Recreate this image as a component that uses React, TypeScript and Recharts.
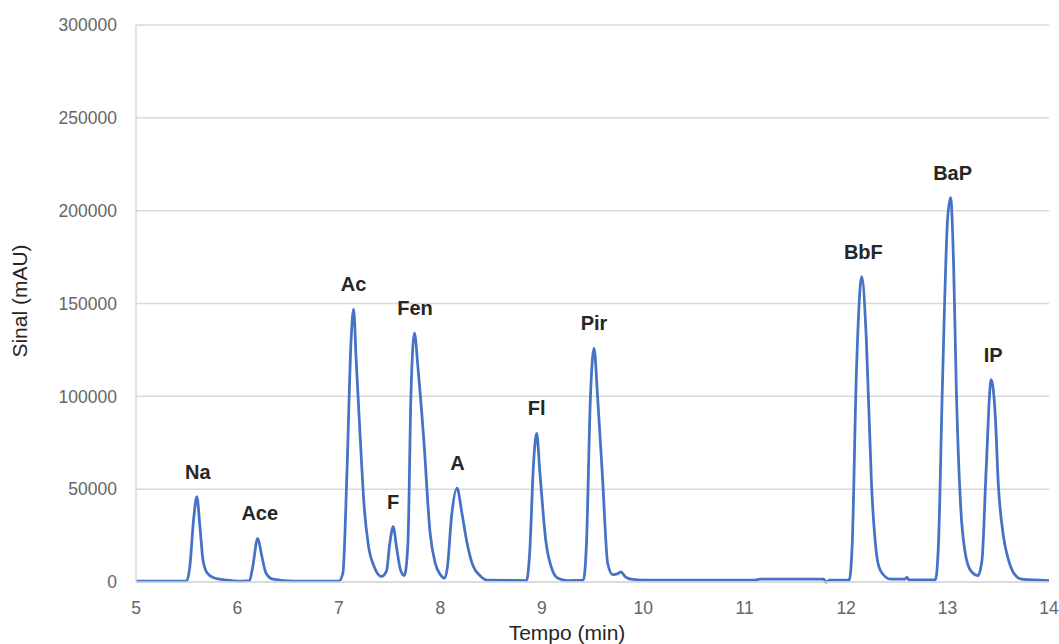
import {
  ComposedChart,
  Line,
  Scatter,
  XAxis,
  YAxis,
  CartesianGrid,
  Label,
} from 'recharts';

// retention time (min) and detector signal (mAU)
const times = [
  5.0, 5.5, 5.53, 5.57, 5.6, 5.63, 5.66, 5.7, 5.78, 5.9, 6.0,
  6.12, 6.15, 6.2, 6.24, 6.28, 6.35, 6.55, 7.0,
  7.04, 7.08, 7.12, 7.145, 7.17, 7.21, 7.25, 7.29, 7.35, 7.42,
  7.47, 7.5, 7.535, 7.57, 7.61, 7.645,
  7.68, 7.71, 7.745, 7.78, 7.835, 7.9, 7.95, 8.0, 8.04,
  8.07, 8.11, 8.165, 8.21, 8.26, 8.32, 8.4, 8.46, 8.85,
  8.88, 8.92, 8.95, 8.98, 9.04, 9.1, 9.16, 9.25, 9.41,
  9.44, 9.48, 9.515, 9.55, 9.6, 9.65, 9.7, 9.75, 9.78, 9.82, 9.88,
  10.0, 10.5, 11.1, 11.15, 11.78, 11.8, 11.84, 12.03,
  12.06, 12.1, 12.155, 12.2, 12.25, 12.3, 12.34, 12.44, 12.58, 12.6, 12.62, 12.88,
  12.91, 12.95, 13.0, 13.03, 13.06, 13.085, 13.13, 13.17, 13.23, 13.3,
  13.34, 13.38, 13.43, 13.47, 13.5, 13.55, 13.6, 13.65, 13.73, 14.0,
];
const signal = [
  500, 500, 8000, 35000, 46000, 30000, 12000, 5000, 2000, 1000, 500,
  800, 8000, 23500, 14000, 5000, 1500, 500, 500,
  5000, 60000, 130000, 147000, 120000, 78000, 40000, 20000, 8000, 3000,
  6000, 20000, 29800, 18000, 6000, 3500,
  20000, 100000, 134000, 115000, 78000, 26000, 10000, 4000, 2000,
  8000, 35000, 50500, 38000, 22000, 9000, 3000, 1000, 800,
  15000, 65000, 80000, 60000, 22000, 7000, 2000, 800, 1000,
  20000, 100000, 126000, 100000, 55000, 10000, 4000, 4500, 5500, 3000, 1500,
  1000, 1000, 1000, 1500, 1500, 0, 1000, 1000,
  20000, 110000, 164500, 130000, 53000, 15000, 6000, 1500, 1500, 2500, 1200, 1200,
  20000, 107000, 195000, 207000, 170000, 107000, 40000, 17000, 6000, 3500,
  12000, 60000, 109000, 90000, 53000, 25000, 12000, 5000, 1500, 800,
];

const peakNames = ['Na', 'Ace', 'Ac', 'F', 'Fen', 'A', 'Fl', 'Pir', 'BbF', 'BaP', 'IP'];
const peakTimes = [5.61, 6.22, 7.145, 7.535, 7.75, 8.17, 8.95, 9.515, 12.17, 13.05, 13.45];
const peakHeights = [46000, 23500, 147000, 29800, 134000, 50500, 80000, 126000, 164500, 207000, 109000];

const xTicks = [5, 6, 7, 8, 9, 10, 11, 12, 13, 14];
const yTicks = [0, 50000, 100000, 150000, 200000, 250000, 300000];

const trace = times.map((t, i) => ({ t, s: signal[i] }));
const peaks = peakNames.map((name, i) => ({ t: peakTimes[i], s: peakHeights[i], name }));

const font = 'Liberation Sans, Arial, sans-serif';
const tickStyle = { fontSize: 17.5, fill: '#666', fontFamily: font };

function PeakLabel(props: any) {
  const { cx, cy, payload } = props;
  return (
    <text x={cx} y={cy - 18} textAnchor="middle" fontSize={20} fontWeight={700} fill="#262626" fontFamily={font}>
      {payload.name}
    </text>
  );
}

export default function App() {
  return (
    <div style={{ position: 'absolute', left: 0, top: 0, background: '#fff' }}>
      <ComposedChart width={1059} height={644} margin={{ top: 25, right: 10, bottom: 0, left: 0 }}>
        <CartesianGrid horizontal vertical={false} stroke="#d9d9d9" strokeWidth={1.5} />
        <XAxis
          dataKey="t"
          type="number"
          domain={[5, 14]}
          ticks={xTicks}
          height={62}
          tickLine={false}
          tickMargin={14}
          axisLine={{ stroke: '#d9d9d9', strokeWidth: 1.5 }}
          tick={tickStyle}
          allowDataOverflow
        >
          <Label
            content={() => (
              <text x={567} y={640} textAnchor="middle" fontSize={21} fill="#262626" fontFamily={font}>
                Tempo (min)
              </text>
            )}
          />
        </XAxis>
        <YAxis
          dataKey="s"
          type="number"
          domain={[0, 300000]}
          ticks={yTicks}
          width={136}
          tickLine={false}
          tickMargin={13}
          axisLine={{ stroke: '#d9d9d9', strokeWidth: 1.5 }}
          tick={tickStyle}
        >
          <Label
            content={() => (
              <text
                x={0}
                y={0}
                transform="translate(27 301) rotate(-90)"
                textAnchor="middle"
                fontSize={21}
                fill="#262626"
                fontFamily={font}
              >
                Sinal (mAU)
              </text>
            )}
          />
        </YAxis>
        <Line
          data={trace}
          dataKey="s"
          type="monotone"
          stroke="#4472C4"
          strokeWidth={2.75}
          dot={false}
          isAnimationActive={false}
        />
        <Scatter data={peaks} dataKey="s" shape={PeakLabel} isAnimationActive={false} />
      </ComposedChart>
    </div>
  );
}
